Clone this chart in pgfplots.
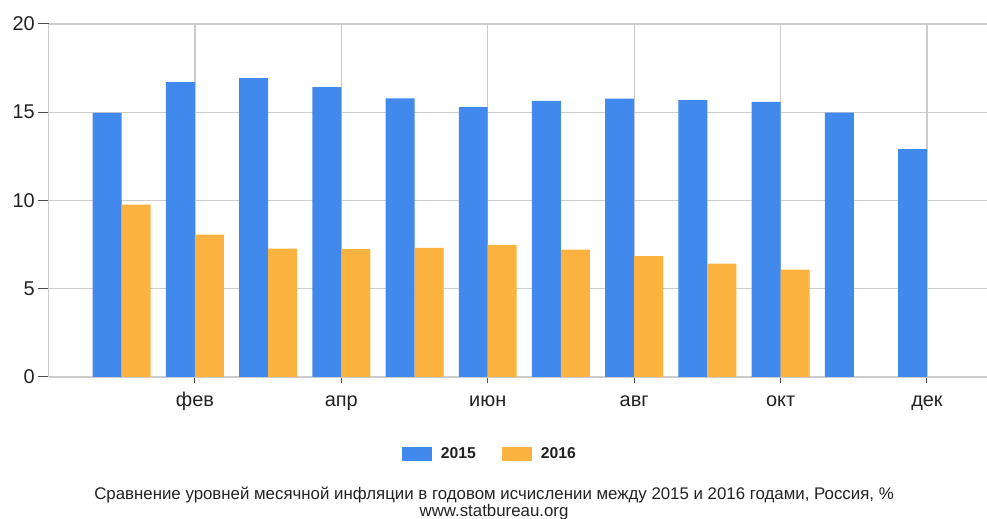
\documentclass[border=0pt]{standalone}
\usepackage{fontspec}
\setmainfont{Liberation Sans}
\usepackage{pgfplots}
\pgfplotsset{compat=1.18}
\definecolor{cBlue}{RGB}{65,137,236}
\definecolor{cOrange}{RGB}{251,178,62}
\definecolor{cGrid}{RGB}{204,204,204}
\definecolor{cText}{RGB}{34,34,34}
\begin{document}
\begin{tikzpicture}[x=1bp,y=1bp]
\path[use as bounding box] (0,0) rectangle (987,519);
\begin{axis}[
  at={(48.5bp,142bp)}, anchor=south west,
  scale only axis, width=938.5bp, height=353bp,
  xmin=-1, xmax=11.82, ymin=0, ymax=20,
  axis x line*=bottom, axis y line*=left,
  axis line style={cGrid, line width=1.2bp, -},
  ytick={0,5,10,15,20},
  xtick={1,3,5,7,9,11},
  xticklabels={фев,апр,июн,авг,окт,дек},
  grid=major,
  major grid style={cGrid, line width=1.2bp},
  tick align=outside,
  xtick style={cText!80, line width=1bp},
  ytick style={cText!80, line width=1bp},
  x tick style={/pgfplots/major tick length=6bp},
  y tick style={/pgfplots/major tick length=11bp},
  ticklabel style={font=\fontsize{20}{20}\selectfont, text=cText},
  /pgf/number format/assume math mode=true,
  yticklabel style={xshift=-6bp},
  xticklabel style={anchor=north, text height=14bp, text depth=5bp, yshift=-8bp},
  legend style={at={(0.4704,-0.218)}, anchor=center, draw=none,
    font=\bfseries\fontsize{15.8}{16}\selectfont, text=cText,
    /tikz/every even column/.append style={column sep=24bp}},
  legend columns=2,
  legend image code/.code={\fill[#1] (0bp,-7bp) rectangle (30bp,7bp); \path (37bp,0bp);},
]
\addplot[ybar, bar width=0.396, bar shift=-0.198, fill=cBlue, draw=none] coordinates {
 (0,14.97) (1,16.71) (2,16.93) (3,16.42) (4,15.78) (5,15.29)
 (6,15.64) (7,15.77) (8,15.68) (9,15.59) (10,14.98) (11,12.91)};
\addlegendentry{2015}
\addplot[ybar, bar width=0.396, bar shift=0.198, fill=cOrange, draw=none] coordinates {
 (0,9.77) (1,8.06) (2,7.27) (3,7.25) (4,7.31) (5,7.48)
 (6,7.21) (7,6.85) (8,6.42) (9,6.09)};
\addlegendentry{2016}
\end{axis}
\node[text=cText, font=\fontsize{16.9}{16.5}\selectfont, align=center] at (494,15.5)
  {Сравнение уровней месячной инфляции в годовом исчислении между 2015 и 2016 годами, Россия, \%\\www.statbureau.org};
\end{tikzpicture}
\end{document}
